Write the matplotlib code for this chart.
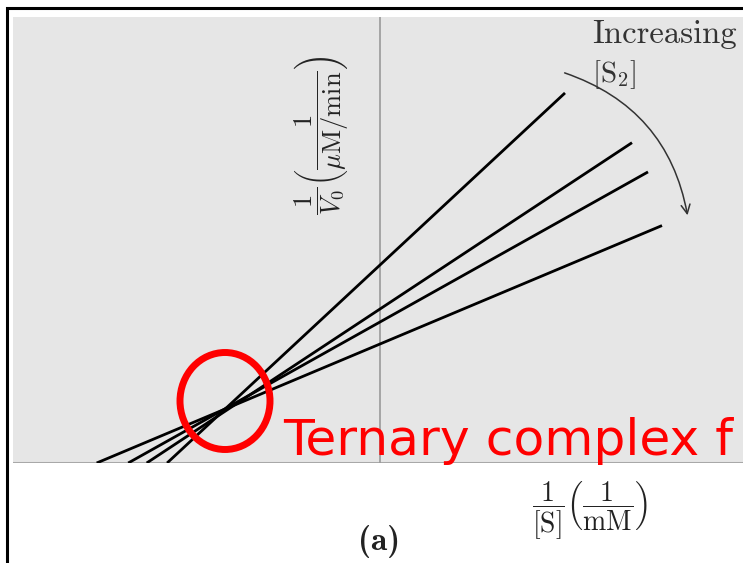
import matplotlib
matplotlib.use("Agg")
import matplotlib.pyplot as plt
from matplotlib.patches import Ellipse, Rectangle

plt.rcParams['mathtext.fontset'] = 'cm'

# Lineweaver-Burk lines for increasing [S2]: 1/V0 = slope * 1/[S] + intercept
slopes = [0.93, 0.66, 0.56, 0.42]
intercepts = [1.98, 1.54, 1.41, 1.19]
x_end = [1.85, 2.52, 2.68, 2.82]

W, H = 743, 563
fig = plt.figure(figsize=(W / 100, H / 100), dpi=100)
fig.patch.set_facecolor('white')

# axes panel, in pixel fractions
left, top, bottom = 13, 17, 463
ax = fig.add_axes([left / W, 1 - bottom / H, 1 - left / W, (bottom - top) / H])
ax.set_facecolor('#e6e6e6')
ax.set_xlim((left - 380) / 100, (W - 380) / 100)
ax.set_ylim(0, (bottom - top) / 100)
for s in ax.spines.values():
    s.set_visible(False)
ax.set_xticks([])
ax.set_yticks([])

# axes through origin
ax.axhline(0, color='#a8a8a8', lw=2.2, zorder=2)
ax.axvline(0, color='#9a9a9a', lw=1.2, zorder=2)

# the lines, each starting at its x-intercept
for m, b, xe in zip(slopes, intercepts, x_end):
    xs = -b / m
    ax.plot([xs, xe], [0, m * xe + b], color='black', lw=2.0,
            solid_capstyle='butt', zorder=3)

# curved arrow for increasing [S2]
ax.annotate('', xy=(3.08, 2.45), xytext=(1.82, 3.91),
            arrowprops=dict(arrowstyle='->', color='#333333', lw=1.1,
                            connectionstyle='arc3,rad=-0.3',
                            mutation_scale=16))
ax.text(2.12, 4.43, 'Increasing', fontsize=23.5, family='cmr10',
        color='#333333', ha='left', va='top')
ax.text(2.12, 4.05, r'$[\mathrm{S}_2]$', fontsize=21, color='#333333',
        ha='left', va='top')

# y label, rotated beside the y axis
ax.text(-0.59, 3.28,
        r'$\dfrac{1}{V_0}\left(\dfrac{1}{\mu\mathrm{M/min}}\right)$',
        fontsize=19, rotation=90, ha='center', va='center', color='#222222')

# red circle around the crossing point
ax.add_patch(Ellipse((-1.55, 0.62), 0.90, 0.97, fill=False,
                     edgecolor='#ff0000', lw=5, zorder=4))
ax.text(-0.97, 0.08, 'Ternary complex f', fontsize=36.3,
        family='DejaVu Sans', color='#ff0000', ha='left',
        va='baseline', zorder=5, clip_on=False)

# x label and panel tag below the axes
fig.text(590 / W, 1 - 510 / H,
         r'$\dfrac{1}{[\mathrm{S}]}\left(\dfrac{1}{\mathrm{mM}}\right)$',
         fontsize=20, ha='center', va='center', color='#222222')
fig.text(379 / W, 1 - 541 / H, '(a)', fontsize=24, family='cmb10',
         ha='center', va='center', color='#222222')

# outer frame
fig.add_artist(Rectangle((7 / W, -0.2), 2, 1.2 - 8 / H, fill=False,
                         edgecolor='black', lw=2.2,
                         transform=fig.transFigure))

fig.savefig('out.png', dpi=100)
